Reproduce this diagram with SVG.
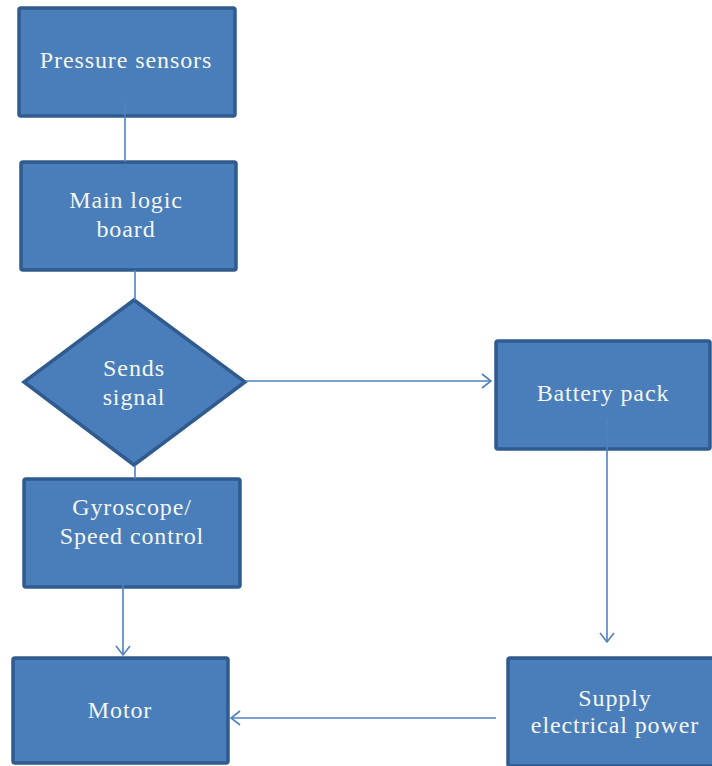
<svg xmlns="http://www.w3.org/2000/svg" width="712" height="766" viewBox="0 0 712 766">
<style>
.box{fill:#4a7ebb;stroke:#2f5b8e;stroke-width:3.5}
.t{font-family:"Liberation Serif","Times New Roman",serif;font-size:24px;fill:#f4f6f0;text-anchor:middle;letter-spacing:0.9px}
.c{fill:none;stroke:#4f81c0;stroke-width:1.6}
</style>
<defs>
<marker id="ah" markerWidth="12" markerHeight="16" refX="10" refY="8" orient="auto" markerUnits="userSpaceOnUse">
<path d="M1,1 L10,8 L1,15" fill="none" stroke="#4f81c0" stroke-width="1.6"/>
</marker>
</defs>
<rect width="712" height="766" fill="#ffffff"/>
<g id="pressure"><rect class="box" x="19" y="8" width="216" height="108" rx="2"/><text class="t" x="126" y="68">Pressure sensors</text></g>
<g id="mainlogic"><rect class="box" x="21" y="162" width="215" height="108" rx="2"/><text class="t" x="126" y="208">Main logic</text><text class="t" x="126" y="237">board</text></g>
<g id="sends"><polygon class="box" points="134,300 245,382 134,465 24,382"/><text class="t" x="134" y="376">Sends</text><text class="t" x="134" y="405">signal</text></g>
<g id="gyro"><rect class="box" x="24" y="479" width="216" height="108" rx="2"/><text class="t" x="132" y="515">Gyroscope/</text><text class="t" x="132" y="544">Speed control</text></g>
<g id="motor"><rect class="box" x="13" y="658" width="215" height="105" rx="2"/><text class="t" x="120" y="718">Motor</text></g>
<g id="battery"><rect class="box" x="496" y="341" width="214" height="108" rx="2"/><text class="t" x="603" y="401">Battery pack</text></g>
<g id="supply"><rect class="box" x="508" y="658" width="214" height="108" rx="2"/><text class="t" x="615" y="706">Supply</text><text class="t" x="615" y="733">electrical power</text></g>
<g id="connectors">
<line class="c" x1="125" y1="100" x2="125" y2="162"/>
<line class="c" x1="135" y1="270" x2="135" y2="300"/>
<line class="c" x1="135" y1="465" x2="135" y2="479"/>
<line class="c" x1="123" y1="583" x2="123" y2="655" marker-end="url(#ah)"/>
<line class="c" x1="245" y1="381" x2="491" y2="381" marker-end="url(#ah)"/>
<line class="c" x1="607" y1="419" x2="607" y2="642" marker-end="url(#ah)"/>
<line class="c" x1="496" y1="718" x2="231" y2="718" marker-end="url(#ah)"/>
</g>
</svg>
